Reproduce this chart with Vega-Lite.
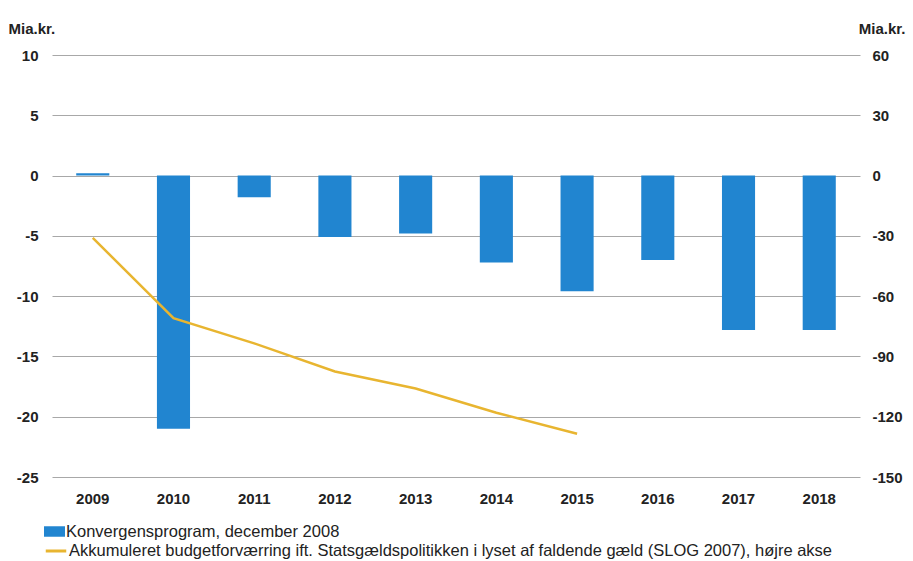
{
  "$schema": "https://vega.github.io/schema/vega-lite/v6.json",
  "width": 808,
  "height": 422,
  "autosize": {"type": "none"},
  "padding": {"left": 52, "top": 55, "right": 53, "bottom": 84},
  "background": "white",
  "config": {
    "view": {"stroke": null},
    "axis": {"labelFont": "Liberation Sans", "labelFontSize": 15, "labelFontWeight": "bold", "labelColor": "#222", "titleFont": "Liberation Sans", "titleFontSize": 15, "titleFontWeight": "bold", "titleColor": "#222"},
    "legend": {"labelFont": "Liberation Sans", "labelFontSize": 16.5, "labelColor": "#222", "labelLimit": 0}
  },
  "data": {
    "values": [
      {"year": "2009", "bar": 0.2, "line": -31},
      {"year": "2010", "bar": -21.0, "line": -71},
      {"year": "2011", "bar": -1.8, "line": -83.5},
      {"year": "2012", "bar": -5.1, "line": -97.5},
      {"year": "2013", "bar": -4.8, "line": -106},
      {"year": "2014", "bar": -7.2, "line": -118},
      {"year": "2015", "bar": -9.6, "line": -128.5},
      {"year": "2016", "bar": -7.0, "line": null},
      {"year": "2017", "bar": -12.8, "line": null},
      {"year": "2018", "bar": -12.8, "line": null}
    ]
  },
  "encoding": {
    "x": {
      "field": "year", "type": "ordinal",
      "scale": {"paddingInner": 0.59, "paddingOuter": 0.3},
      "axis": {"title": null, "labelAngle": 0, "domain": false, "ticks": false, "labelPadding": 14}
    }
  },
  "layer": [
    {
      "mark": {"type": "bar", "clip": false},
      "encoding": {
        "y": {
          "field": "bar", "type": "quantitative",
          "scale": {"domain": [-25, 10], "nice": false, "zero": false},
          "axis": {"title": "Mia.kr.", "titleAngle": 0, "titleAlign": "left", "titleX": -44, "titleY": -22, "titleBaseline": "alphabetic", "values": [10, 5, 0, -5, -10, -15, -20, -25], "labelExpr": "replace(datum.label, '\u2212', '-')", "domain": false, "ticks": false, "labelPadding": 14, "grid": true, "gridColor": "#a8a8a8", "gridWidth": 1}
        },
        "fill": {
          "datum": "Konvergensprogram, december 2008", "type": "nominal",
          "scale": {"range": ["#2185D0"]},
          "legend": {"title": null, "orient": "none", "legendX": -8, "legendY": 466, "symbolType": "M-1,-0.5H1V0.5H-1Z", "symbolSize": 440, "symbolStrokeWidth": 0, "labelOffset": 1}
        }
      }
    },
    {
      "transform": [{"filter": "datum.line != null"}],
      "mark": {"type": "line", "strokeWidth": 2.5},
      "encoding": {
        "y": {
          "field": "line", "type": "quantitative",
          "scale": {"domain": [-150, 60], "nice": false, "zero": false},
          "axis": {"title": "Mia.kr.", "orient": "right", "titleAngle": 0, "titleAlign": "right", "titleX": 45, "titleY": -22, "titleBaseline": "alphabetic", "values": [60, 30, 0, -30, -60, -90, -120, -150], "labelExpr": "replace(datum.label, '\u2212', '-')", "domain": false, "ticks": false, "labelPadding": 12, "grid": false}
        },
        "stroke": {
          "datum": "Akkumuleret budgetforværring ift. Statsgældspolitikken i lyset af faldende gæld (SLOG 2007), højre akse",
          "type": "nominal",
          "scale": {"range": ["#E8B530"]},
          "legend": {"title": null, "orient": "none", "legendX": -8, "legendY": 484, "symbolType": "stroke", "symbolSize": 420, "symbolStrokeWidth": 3, "labelOffset": 1}
        }
      }
    }
  ],
  "resolve": {"scale": {"y": "independent"}}
}
